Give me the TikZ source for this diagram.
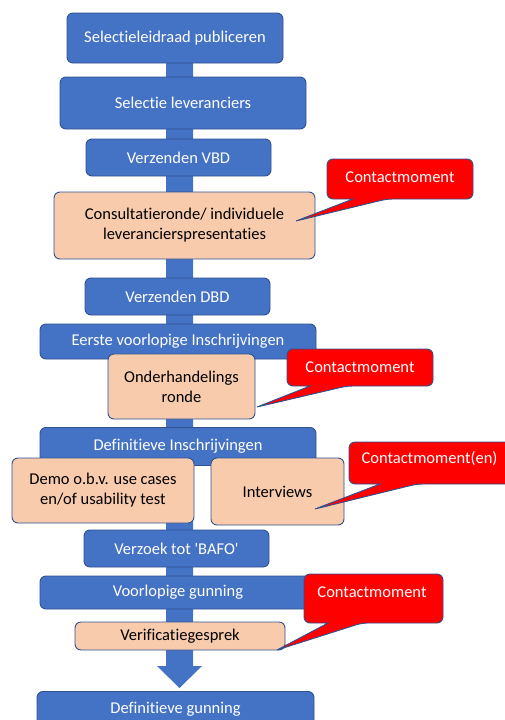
\documentclass[tikz,border=0pt]{standalone}
\usepackage{fontspec}
\setmainfont{Carlito}[Ligatures={TeXOff,NoCommon}]
\definecolor{blu}{HTML}{4472C4}
\definecolor{bord}{HTML}{2F528F}
\definecolor{peach}{HTML}{F8CBAD}
\definecolor{redc}{HTML}{FF0000}
\tikzset{
  base/.style={rectangle, rounded corners=6, draw=bord, line width=0.9, inner sep=0, align=center, font=\fontsize{16.5}{20}\selectfont},
  bluebox/.style={base, fill=blu, text=white},
  peachbox/.style={base, fill=peach, text=black},
  callout/.style={fill=redc, draw=bord, line width=0.9},
  calltext/.style={text=white, inner sep=0, font=\fontsize{16.5}{20}\selectfont},
}
\begin{document}
\begin{tikzpicture}[x=1pt,y=-1pt]
\useasboundingbox (0,0) rectangle (504,720);
% big arrow behind
\fill[blu] (166,55) -- (193,55) -- (193,666) -- (202,666) -- (179.5,688) -- (157,666) -- (166,666) -- cycle;
% boxes
\node[bluebox, minimum width=216, minimum height=50] (sel) at (175,38) {Selectieleidraad publiceren};
\node[bluebox, minimum width=246, minimum height=52] (lev) at (183,103) {Selectie leveranciers};
\node[bluebox, minimum width=185, minimum height=37] (vbd) at (178.5,157.5) {Verzenden VBD};
\node[peachbox, minimum width=261, minimum height=67] (cons) at (184.5,225.5) {Consultatieronde/ individuele\\leverancierspresentaties};
\node[bluebox, minimum width=185, minimum height=37] (dbd) at (177.5,296.5) {Verzenden DBD};
\node[bluebox, minimum width=276, minimum height=35] (eerste) at (178,341.5) {Eerste voorlopige Inschrijvingen};
\node[peachbox, minimum width=147, minimum height=65] (onder) at (181.5,386.5) {Onderhandelings\\ronde};
\node[bluebox, minimum width=276, minimum height=38, anchor=north] (defins) at (178,427) {};
\node[text=white, inner sep=0, font=\fontsize{16.5}{20}\selectfont] (definstxt) at (178,446) {Definitieve Inschrijvingen};
\node[peachbox, minimum width=182, minimum height=65] (demo) at (103,490.5) {Demo o.b.v. use cases\\en/of usability test};
\node[peachbox, minimum width=133, minimum height=67] (interv) at (277.5,491.5) {Interviews};
\node[bluebox, minimum width=185, minimum height=37] (bafo) at (176.5,548.5) {Verzoek tot 'BAFO'};
\node[bluebox, minimum width=276, minimum height=33] (voorl) at (178,592.5) {Voorlopige gunning};
\node[peachbox, minimum width=210, minimum height=28] (verif) at (180,636) {Verificatiegesprek};
\node[bluebox, minimum width=277, minimum height=40, anchor=north] (defg) at (175.5,691) {};
\node[text=white, inner sep=0, font=\fontsize{16.5}{20}\selectfont] (defgtxt) at (175.5,709) {Definitieve gunning};
% callouts
\draw[callout, rounded corners=6] (353,199) -- (327,199) -- (327,159) -- (473,159) -- (473,199) -- (387,199) [sharp corners] -- (296,221) -- cycle;
\node[calltext] (c1) at (400,177) {Contactmoment};
\draw[callout, rounded corners=6] (310,386) -- (287,386) -- (287,349) -- (433,349) -- (433,386) -- (347,386) [sharp corners] -- (257,407) -- cycle;
\node[calltext] (c2) at (360,367) {Contactmoment};
\draw[callout, rounded corners=6] (380,484) -- (349,484) -- (349,442) -- (515,442) -- (515,484) -- (417,484) [sharp corners] -- (315,509) -- cycle;
\node[calltext] (c3) at (429.5,459) {Contactmoment(en)};
\draw[callout, rounded corners=6] (328,623) -- (304,623) -- (304,574) -- (443,574) -- (443,623) -- (362,623) [sharp corners] -- (277,650) -- cycle;
\node[calltext] (c4) at (372,592) {Contactmoment};
\end{tikzpicture}
\end{document}
